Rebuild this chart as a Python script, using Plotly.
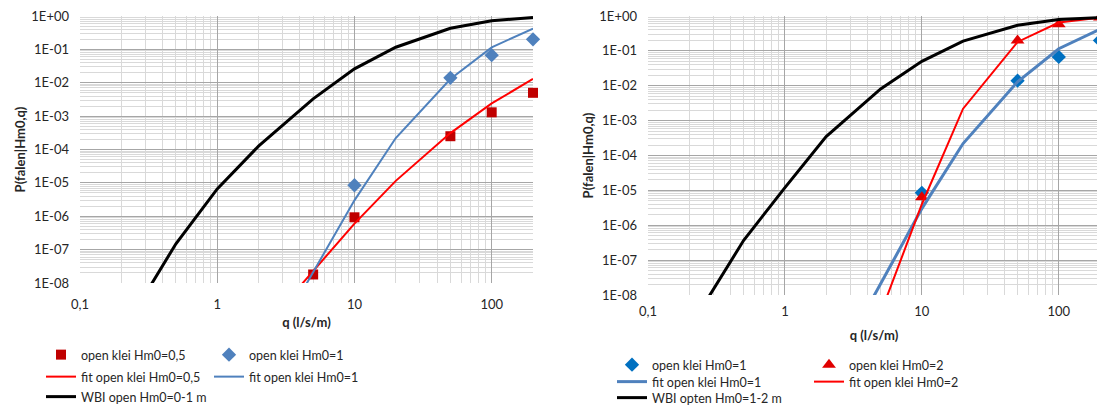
import plotly.graph_objects as go
import numpy as np

# ---------------- data ----------------
q_fit = [2, 5, 10, 20, 50, 100, 200]
q_wbi = [0.2, 0.5, 1, 2, 5, 10, 20, 50, 100, 200]

# left chart
q_sq = [5, 10, 50, 100, 200]
p_sq_05 = [1.8e-8, 9.3e-7, 2.5e-4, 1.3e-3, 5e-3]
q_dia = [10, 50, 100, 200]
p_dia_1 = [8.5e-6, 1.4e-2, 6.7e-2, 0.2]
p_fit_05 = [3e-10, 2.3e-8, 6e-7, 1.15e-5, 3.1e-4, 2.4e-3, 1.3e-2]
p_fit_1 = [3e-11, 2e-8, 3e-6, 2.2e-4, 1.3e-2, 0.115, 0.42]
p_wbi_01 = [3e-10, 1.5e-7, 6.6e-6, 1.26e-4, 3.3e-3, 2.6e-2, 0.116, 0.43, 0.72, 0.9]

# right chart
q_tri = [10, 50, 100, 200]
p_tri_2 = [6.3e-6, 0.2, 0.58, 0.9]
p_fit_2 = [3e-13, 3e-9, 4e-6, 2.2e-3, 0.18, 0.65, 0.9]
p_wbi_12 = [1.1e-9, 3.7e-7, 1.2e-5, 3.5e-4, 8.1e-3, 5e-2, 0.19, 0.54, 0.79, 0.9]

y_tickvals = [1e-8, 1e-7, 1e-6, 1e-5, 1e-4, 1e-3, 1e-2, 1e-1, 1]
y_ticktext = ["1E-08", "1E-07", "1E-06", "1E-05", "1E-04", "1E-03", "1E-02", "1E-01", "1E+00"]
x_tickvals = [0.1, 1, 10, 100]
x_ticktext = ["0,1", "1", "10", "100"]

FONT = "Lato, 'Liberation Sans', sans-serif"
W, H = 1105, 405
OFF = 8  # page body margin


def px(sx):
    return (sx - OFF) / W


def py(sy):
    return 1 - (sy - OFF) / H


x_minor = [m * 10.0 ** k for k in range(-1, 3) for m in range(2, 10) if m * 10.0 ** k < 200]
y_minor = [m * 10.0 ** k for k in range(-8, 0) for m in range(2, 10)]

fig = go.Figure()

# ----- left traces -----
fig.add_trace(go.Scatter(x=q_sq, y=p_sq_05, mode="markers", name="open klei Hm0=0,5",
                         marker=dict(symbol="square", size=10, color="#C00000"),
                         xaxis="x", yaxis="y", legend="legend", cliponaxis=False))
fig.add_trace(go.Scatter(x=q_dia, y=p_dia_1, mode="markers", name="open klei Hm0=1",
                         marker=dict(symbol="diamond", size=11, color="#4F81BD"),
                         xaxis="x", yaxis="y", legend="legend", cliponaxis=False))
fig.add_trace(go.Scatter(x=q_fit, y=p_fit_05, mode="lines", name="fit open klei Hm0=0,5",
                         line=dict(color="#FF0000", width=2),
                         xaxis="x", yaxis="y", legend="legend2"))
fig.add_trace(go.Scatter(x=q_fit, y=p_fit_1, mode="lines", name="fit open klei Hm0=1",
                         line=dict(color="#4F81BD", width=2),
                         xaxis="x", yaxis="y", legend="legend2"))
fig.add_trace(go.Scatter(x=q_wbi, y=p_wbi_01, mode="lines", name="WBI open Hm0=0-1 m",
                         line=dict(color="#000000", width=3),
                         xaxis="x", yaxis="y", legend="legend3"))

# ----- right traces -----
fig.add_trace(go.Scatter(x=q_dia, y=p_dia_1, mode="markers", name="open klei Hm0=1",
                         marker=dict(symbol="diamond", size=11, color="#0070C0"),
                         xaxis="x2", yaxis="y2", legend="legend4", cliponaxis=False))
fig.add_trace(go.Scatter(x=q_tri, y=p_tri_2, mode="markers", name="open klei Hm0=2",
                         marker=dict(symbol="triangle-up", size=12, color="#E00000"),
                         xaxis="x2", yaxis="y2", legend="legend4", cliponaxis=False))
fig.add_trace(go.Scatter(x=q_fit, y=p_fit_1, mode="lines", name="fit open klei Hm0=1",
                         line=dict(color="#4F81BD", width=3),
                         xaxis="x2", yaxis="y2", legend="legend5"))
fig.add_trace(go.Scatter(x=q_fit, y=p_fit_2, mode="lines", name="fit open klei Hm0=2",
                         line=dict(color="#FF0000", width=2),
                         xaxis="x2", yaxis="y2", legend="legend5"))
fig.add_trace(go.Scatter(x=q_wbi, y=p_wbi_12, mode="lines", name="WBI opten Hm0=1-2 m",
                         line=dict(color="#000000", width=3),
                         xaxis="x2", yaxis="y2", legend="legend6"))


def xax(domain, anchor, lblstand, standoff):
    return dict(type="log", range=[-1, np.log10(200)], domain=domain, anchor=anchor,
                automargin=False,
                tickmode="array", tickvals=x_tickvals, ticktext=x_ticktext,
                showgrid=True, gridcolor="#A6A6A6", gridwidth=1,
                minor=dict(tickmode="array", tickvals=x_minor, showgrid=True,
                           gridcolor="#D9D9D9", gridwidth=1, ticks=""),
                showline=False, zeroline=False, ticks="", ticklabelstandoff=lblstand,
                ticklabeloverflow="allow",
                tickfont=dict(family=FONT, size=13, color="#262626"),
                title=dict(text="<b>q (l/s/m)</b>", font=dict(family=FONT, size=13, color="#262626"),
                           standoff=standoff))


def yax(domain, anchor, standoff):
    return dict(type="log", range=[-8, 0], domain=domain, anchor=anchor,
                automargin=False,
                tickmode="array", tickvals=y_tickvals, ticktext=y_ticktext,
                showgrid=True, gridcolor="#A6A6A6", gridwidth=1,
                minor=dict(tickmode="array", tickvals=y_minor, showgrid=True,
                           gridcolor="#D9D9D9", gridwidth=1, ticks=""),
                showline=False, zeroline=False, ticks="", ticklabelstandoff=10,
                ticklabeloverflow="allow",
                tickfont=dict(family=FONT, size=13, color="#262626"),
                title=dict(text="<b>P(falen|Hm0,q)</b>", font=dict(family=FONT, size=13, color="#262626"),
                           standoff=standoff))


def leg(sx, sy, ew):
    return dict(orientation="h", x=px(sx), y=py(sy), xanchor="left", yanchor="middle",
                entrywidth=ew, entrywidthmode="pixels", bgcolor="rgba(0,0,0,0)",
                font=dict(family=FONT, size=12.5, color="#262626"), itemwidth=30,
                tracegroupgap=0, itemclick=False)


fig.update_layout(
    width=W, height=H, margin=dict(l=0, r=0, t=0, b=0, autoexpand=False),
    paper_bgcolor="white", plot_bgcolor="white",
    showlegend=True,
    xaxis=xax([px(80), px(533)], "y", 12, 6),
    yaxis=yax([py(283), py(16)], "x", 2),
    xaxis2=xax([px(648), px(1100)], "y2", 7, 12),
    yaxis2=yax([py(295), py(16)], "x2", 2),
    legend=leg(41, 355, 123),
    legend2=leg(41, 377, 123),
    legend3=leg(41, 397, 250),
    legend4=leg(612, 365, 152),
    legend5=leg(612, 382, 152),
    legend6=leg(612, 398, 250),
)

fig.write_html("out.html")
